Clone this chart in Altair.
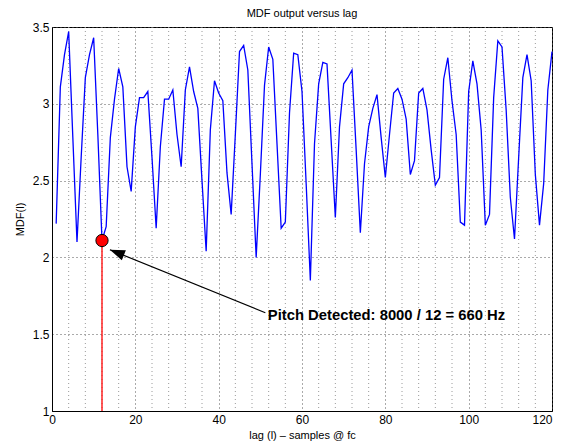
import altair as alt
import pandas as pd

# ---- data ----
lags = list(range(1, 121))
mdf = [2.22, 3.11, 3.32, 3.47, 2.78, 2.10, 2.65, 3.17, 3.32, 3.43,
       2.80, 2.11, 2.20, 2.78, 3.03, 3.23, 3.11, 2.59, 2.43, 2.85,
       3.04, 3.04, 3.08, 2.65, 2.19, 2.72, 3.03, 3.03, 3.09, 2.80,
       2.59, 3.09, 3.24, 3.08, 2.97, 2.50, 2.04, 2.83, 3.15, 3.07,
       3.02, 2.55, 2.28, 2.80, 3.34, 3.38, 3.22, 2.61, 2.00, 2.54,
       3.12, 3.37, 3.29, 2.74, 2.19, 2.23, 2.94, 3.33, 3.32, 3.08,
       2.48, 1.85, 2.74, 3.13, 3.27, 3.26, 2.76, 2.26, 2.85, 3.13,
       3.17, 3.22, 2.70, 2.16, 2.61, 2.85, 2.97, 3.06, 2.78, 2.52,
       2.80, 3.07, 3.10, 3.03, 2.90, 2.54, 2.63, 3.07, 3.10, 2.96,
       2.70, 2.47, 2.52, 3.16, 3.30, 3.02, 2.80, 2.23, 2.21, 3.08,
       3.28, 3.13, 2.83, 2.21, 2.28, 3.04, 3.41, 3.37, 2.96, 2.39,
       2.12, 2.65, 3.17, 3.32, 3.15, 2.54, 2.21, 2.48, 3.09, 3.34]

x_ticks = [0, 20, 40, 60, 80, 100, 120]
y_ticks = [1, 1.5, 2, 2.5, 3, 3.5]
x_minor = [4, 8, 12, 16, 24, 28, 32, 36, 44, 48, 52, 56, 64, 68, 72, 76,
           84, 88, 92, 96, 104, 108, 112, 116]

pitch_lag = [12]
pitch_val = [2.11]
y_floor = [1]
annot_text = ["Pitch Detected: 8000 / 12 = 660 Hz"]
annot_pos = [51.8, 1.62]
arrow_tail = [51.2, 1.64]
arrow_head = [13.9, 2.05]

FONT = "Liberation Sans"
X_TITLE = "lag (l) \u2013 samples @ fc"
Y_TITLE = "MDF(l)"

xs = alt.Scale(domain=[0, 120], nice=False, zero=False)
ys = alt.Scale(domain=[1, 3.5], nice=False, zero=False)
xax = alt.Axis(values=x_ticks, grid=True, labelExpr="datum.value", labelFlush=False,
               labelAlign={"condition": {"test": "datum.value >= 120", "value": "right"},
                           "value": "center"})
yax = alt.Axis(values=y_ticks, grid=True, labelExpr="datum.value", labelFlush=False)


def X(field):
    return alt.X(field, scale=xs, axis=xax, title=X_TITLE)


def Y(field):
    return alt.Y(field, scale=ys, axis=yax, title=Y_TITLE)


df = pd.DataFrame({"lag": lags, "mdf": mdf})
df_minor = pd.DataFrame({"m": x_minor})
df_pitch = pd.DataFrame({"lag": pitch_lag, "val": pitch_val, "floor": y_floor})
df_text = pd.DataFrame({"x": [annot_pos[0]], "y": [annot_pos[1]], "t": annot_text})
df_arrow = pd.DataFrame({"x": [arrow_tail[0]], "y": [arrow_tail[1]],
                         "x2": [arrow_head[0]], "y2": [arrow_head[1]]})
df_head = pd.DataFrame({"x": [arrow_head[0]], "y": [arrow_head[1]]})

minor = alt.Chart(df_minor).mark_rule(
    color="#9a9a9a", strokeDash=[1, 3], strokeWidth=1
).encode(x=X("m:Q"))

line = alt.Chart(df).mark_line(color="#0000ff", strokeWidth=1.3).encode(
    x=X("lag:Q"), y=Y("mdf:Q"),
)

red_rule = alt.Chart(df_pitch).mark_rule(color="#ff0000", strokeWidth=1.3).encode(
    x=X("lag:Q"), y=Y("floor:Q"), y2="val:Q",
)

arrow = alt.Chart(df_arrow).mark_rule(color="black", strokeWidth=1.2).encode(
    x=X("x:Q"), y=Y("y:Q"), x2="x2:Q", y2="y2:Q",
)

head = alt.Chart(df_head).mark_point(
    shape="M0,0 L-0.36,1 L0.36,1 Z", filled=True, color="black",
    opacity=1, size=900, angle=292
).encode(x=X("x:Q"), y=Y("y:Q"))

dot = alt.Chart(df_pitch).mark_point(
    filled=True, fill="#ff0000", stroke="black", strokeWidth=1,
    size=150, opacity=1, shape="circle"
).encode(x=X("lag:Q"), y=Y("val:Q"))

text = alt.Chart(df_text).mark_text(
    align="left", baseline="middle", font=FONT, fontSize=14.8,
    fontWeight="bold", color="black"
).encode(x=X("x:Q"), y=Y("y:Q"), text="t:N")

chart = alt.layer(minor, line, red_rule, arrow, head, dot, text).properties(
    width=500,
    height=384,
    title=alt.TitleParams("MDF output versus lag", font=FONT, fontSize=11,
                          fontWeight="normal", color="black", offset=2),
    autosize=alt.AutoSizeParams(type="none"),
    padding={"left": 44, "top": 19, "right": 7, "bottom": 32},
).configure_view(
    stroke="black", strokeWidth=1
).configure_axis(
    labelFont=FONT, labelFontSize=12, labelColor="black",
    titleFont=FONT, titleFontSize=11, titleFontWeight="normal", titleColor="black",
    domainColor="black", domainWidth=1, ticks=False, labelPadding=3,
    gridColor="#555555", gridDash=[1, 3], gridWidth=1, gridOpacity=1,
).configure_axisX(
    titlePadding=4
).configure_axisY(
    titlePadding=7
)

chart.save("out.html", embed_options={"renderer": "svg", "actions": False})
